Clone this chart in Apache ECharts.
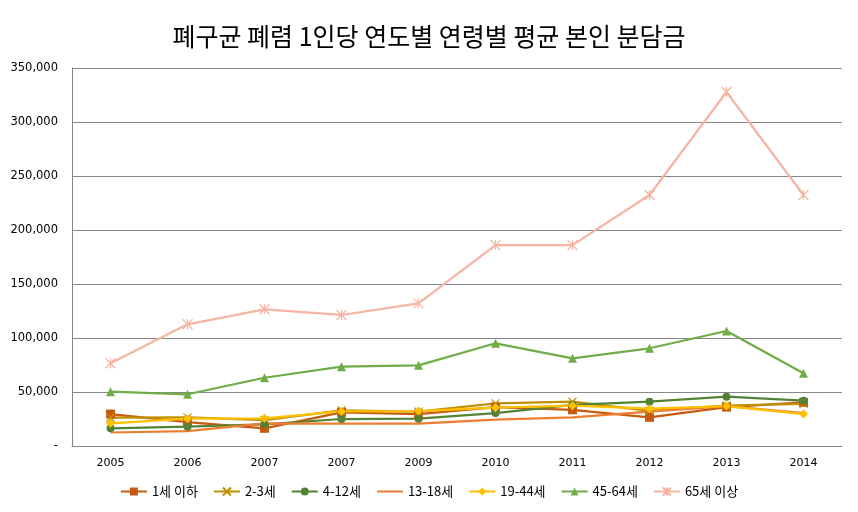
<!DOCTYPE html>
<html>
<head>
<meta charset="utf-8">
<script src="https://cdn.jsdelivr.net/npm/echarts@6/dist/echarts.min.js"></script>
<style>
html,body{margin:0;padding:0;background:#fff;}
#chart{width:858px;height:512px;}
</style>
</head>
<body>
<div id="chart"></div>
<script>
var titleText = '폐구균 폐렴 1인당 연도별 연령별 평균 본인 분담금';
var categories = ['2005','2006','2007','2007','2009','2010','2011','2012','2013','2014'];
var yTicks = [0, 50000, 100000, 150000, 200000, 250000, 300000, 350000];

var seriesNames = ['1세 이하','2-3세','4-12세','13-18세','19-44세','45-64세','65세 이상'];
var age0_1   = [29600, 22000, 16400, 31200, 29500, 36000, 33500, 26600, 36000, 40400];
var age2_3   = [26200, 26500, 24000, 33000, 31800, 39500, 41000, 32500, 37500, 39000];
var age4_12  = [16400, 17900, 20100, 25000, 25300, 30500, 38000, 41000, 45700, 42000];
var age13_18 = [12500, 13800, 21000, 20800, 20800, 24500, 26600, 31800, 37000, 30500];
var age19_44 = [21000, 25300, 25600, 32000, 32400, 35500, 37300, 34500, 37000, 29600];
var age45_64 = [50300, 47900, 63200, 73400, 74700, 95100, 81200, 90500, 106500, 67300];
var age65    = [76600, 112700, 126600, 121300, 132100, 186000, 186000, 232400, 327800, 232400];

var seriesData = [age0_1, age2_3, age4_12, age13_18, age19_44, age45_64, age65];
var colors = ['#C55A11','#BF9000','#548235','#ED7D31','#FFC000','#70AD47','#F5B5A2'];
var symbols = [
  'rect',
  'path://M0,0L10,10M10,0L0,10',
  'circle',
  'none',
  'diamond',
  'triangle',
  'path://M0,0L10,10M10,0L0,10M5,0L5,10'
];
var sizes = [9, 8, 8, 0, 9, 9, 10];

var series = seriesNames.map(function (name, i) {
  var stroke = symbols[i].indexOf('path://') === 0;
  return {
    name: name,
    type: 'line',
    data: seriesData[i],
    symbol: symbols[i],
    symbolSize: sizes[i],
    showSymbol: symbols[i] !== 'none',
    lineStyle: { color: colors[i], width: 2.25 },
    itemStyle: stroke
      ? { color: colors[i], borderColor: colors[i], borderWidth: 1.2 }
      : { color: colors[i], borderWidth: 0 },
    emphasis: { disabled: true },
    animation: false
  };
});

var legendData = seriesNames.map(function (n, i) {
  if (symbols[i] === 'none') {
    return { name: n, itemStyle: { opacity: 0 } };
  }
  return { name: n };
});

var chart = echarts.init(document.getElementById('chart'), null, { renderer: 'canvas' });
chart.setOption({
  backgroundColor: '#ffffff',
  animation: false,
  title: {
    text: titleText,
    left: 'center',
    top: 19,
    textStyle: {
      fontFamily: 'Noto Sans CJK KR',
      fontSize: 25,
      fontWeight: 'normal',
      color: '#000000'
    }
  },
  legend: {
    bottom: 9,
    left: 'center',
    itemWidth: 26,
    itemHeight: 10,
    itemGap: 15,
    textStyle: { fontFamily: 'Noto Sans CJK KR', fontSize: 13, color: '#000' },
    data: legendData
  },
  grid: { left: 72, right: 16, top: 68, bottom: 66, containLabel: false },
  xAxis: {
    type: 'category',
    data: categories,
    boundaryGap: true,
    axisLine: { lineStyle: { color: '#868686', width: 1 } },
    axisTick: { show: false },
    axisLabel: { color: '#000', fontFamily: 'DejaVu Sans', fontSize: 11, margin: 12 }
  },
  yAxis: {
    type: 'value',
    min: yTicks[0],
    max: yTicks[yTicks.length - 1],
    interval: yTicks[1] - yTicks[0],
    axisLine: { show: true, lineStyle: { color: '#868686', width: 1 } },
    axisTick: { show: false },
    splitLine: { lineStyle: { color: '#868686', width: 1 } },
    axisLabel: {
      color: '#000',
      fontFamily: 'DejaVu Sans',
      fontSize: 11.5,
      margin: 14,
      formatter: function (v) {
        if (v === 0) return '-';
        return v.toLocaleString('en-US');
      }
    }
  },
  series: series
});
</script>
</body>
</html>
